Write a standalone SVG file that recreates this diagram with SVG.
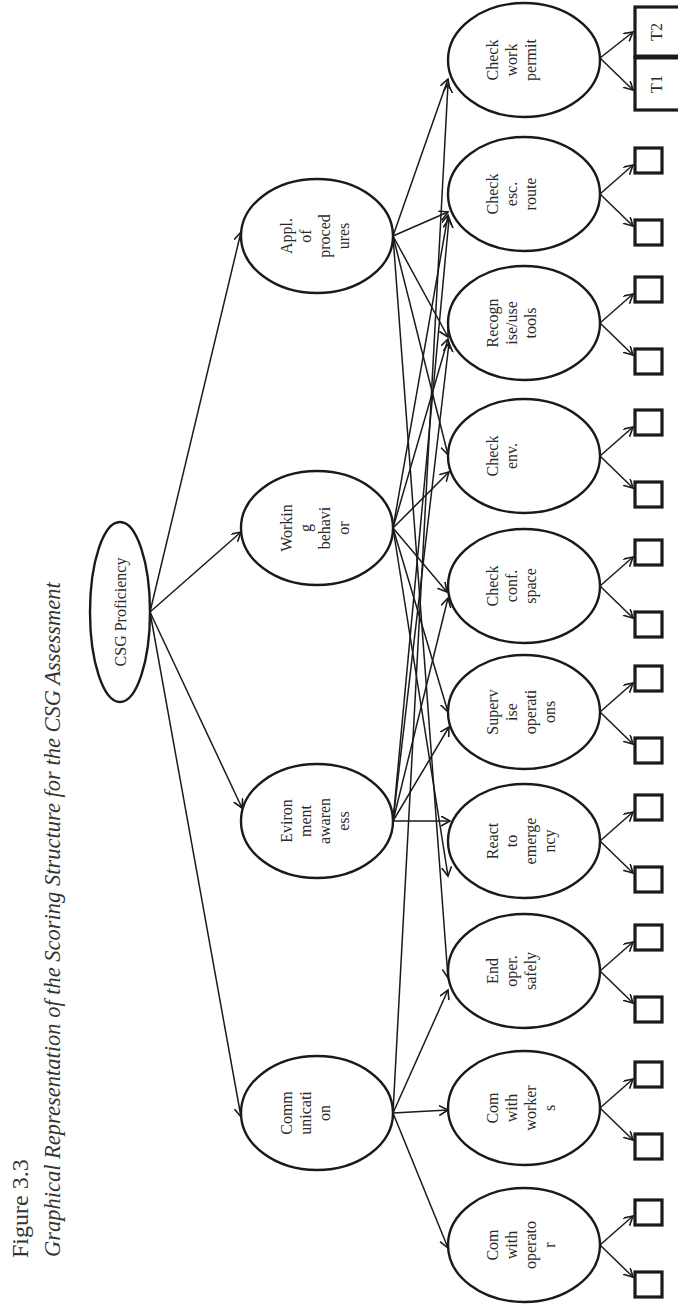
<svg xmlns="http://www.w3.org/2000/svg" width="678" height="1304" viewBox="0 0 678 1304">
<defs>
<marker id="ah" markerUnits="userSpaceOnUse" markerWidth="12" markerHeight="12" refX="9" refY="5" orient="auto">
<path d="M0,0 L9,5 L0,10" fill="none" stroke="#1a1a1a" stroke-width="1.6"/>
</marker>
<style>
.n{fill:#fff;stroke:#1a1a1a;stroke-width:2.4}
.t{font-family:"Liberation Serif","Times New Roman",serif;font-size:16px;fill:#2a2a2a;text-anchor:middle}
.c line{stroke:#1a1a1a;stroke-width:1.5;marker-end:url(#ah)}
.sq{fill:#fff;stroke:#1a1a1a;stroke-width:3.2}
.cap{font-family:"Liberation Serif","Times New Roman",serif;fill:#333}
</style>
</defs>
<rect width="678" height="1304" fill="#fff"/>
<g id="caption">
<text class="cap" font-size="24" transform="translate(28,1258) rotate(-90)">Figure 3.3</text>
<text class="cap" font-size="22.5" font-style="italic" transform="translate(60,1257) rotate(-90)">Graphical Representation of the Scoring Structure for the CSG Assessment</text>
</g>
<g id="connectors" class="c">
<line x1="150" y1="612" x2="241" y2="232"/>
<line x1="150" y1="612" x2="241" y2="532"/>
<line x1="150" y1="612" x2="242" y2="808"/>
<line x1="150" y1="612" x2="241" y2="1117"/>
<line x1="393" y1="236" x2="448" y2="79"/>
<line x1="393" y1="236" x2="448" y2="212"/>
<line x1="393" y1="236" x2="448" y2="337"/>
<line x1="393" y1="236" x2="448" y2="455"/>
<line x1="393" y1="236" x2="448" y2="978"/>
<line x1="393" y1="528" x2="448" y2="215"/>
<line x1="393" y1="528" x2="448" y2="339"/>
<line x1="393" y1="528" x2="449" y2="472"/>
<line x1="393" y1="528" x2="447" y2="592"/>
<line x1="393" y1="528" x2="448" y2="712"/>
<line x1="393" y1="528" x2="448" y2="876"/>
<line x1="393" y1="821" x2="449" y2="219"/>
<line x1="393" y1="821" x2="449" y2="343"/>
<line x1="393" y1="821" x2="448" y2="598"/>
<line x1="393" y1="821" x2="449" y2="727"/>
<line x1="393" y1="821" x2="450" y2="821"/>
<line x1="393" y1="1113" x2="448" y2="84"/>
<line x1="393" y1="1113" x2="448" y2="990"/>
<line x1="393" y1="1113" x2="448" y2="1110"/>
<line x1="393" y1="1113" x2="448" y2="1248"/>
<line x1="600" y1="58" x2="633" y2="32"/>
<line x1="600" y1="58" x2="633" y2="90"/>
<line x1="600" y1="194" x2="633" y2="165"/>
<line x1="600" y1="194" x2="633" y2="226"/>
<line x1="600" y1="323" x2="633" y2="294"/>
<line x1="600" y1="323" x2="633" y2="355"/>
<line x1="600" y1="456" x2="633" y2="427"/>
<line x1="600" y1="456" x2="633" y2="488"/>
<line x1="600" y1="586" x2="633" y2="557"/>
<line x1="600" y1="586" x2="633" y2="618"/>
<line x1="600" y1="712" x2="633" y2="683"/>
<line x1="600" y1="712" x2="633" y2="744"/>
<line x1="600" y1="841" x2="633" y2="812"/>
<line x1="600" y1="841" x2="633" y2="873"/>
<line x1="600" y1="971" x2="633" y2="942"/>
<line x1="600" y1="971" x2="633" y2="1003"/>
<line x1="600" y1="1108" x2="633" y2="1079"/>
<line x1="600" y1="1108" x2="633" y2="1140"/>
<line x1="600" y1="1245" x2="633" y2="1216"/>
<line x1="600" y1="1245" x2="633" y2="1277"/>
</g>
<g id="csg"><ellipse class="n" cx="120" cy="612" rx="30" ry="90"/><text class="t" transform="translate(126,612) rotate(-90)">CSG Proficiency</text></g>
<g id="appl"><ellipse class="n" cx="317" cy="236" rx="76" ry="57"/><text class="t" transform="translate(292,236) rotate(-90)"><tspan x="0" y="0">Appl.</tspan><tspan x="0" y="19">of</tspan><tspan x="0" y="38">proced</tspan><tspan x="0" y="57">ures</tspan></text></g>
<g id="workin"><ellipse class="n" cx="317" cy="528" rx="76" ry="57"/><text class="t" transform="translate(292,528) rotate(-90)"><tspan x="0" y="0">Workin</tspan><tspan x="0" y="19">g</tspan><tspan x="0" y="38">behavi</tspan><tspan x="0" y="57">or</tspan></text></g>
<g id="eviron"><ellipse class="n" cx="317" cy="821" rx="76" ry="57"/><text class="t" transform="translate(292,821) rotate(-90)"><tspan x="0" y="0">Eviron</tspan><tspan x="0" y="19">ment</tspan><tspan x="0" y="38">awaren</tspan><tspan x="0" y="57">ess</tspan></text></g>
<g id="comm"><ellipse class="n" cx="317" cy="1113" rx="76" ry="57"/><text class="t" transform="translate(292,1113) rotate(-90)"><tspan x="0" y="0">Comm</tspan><tspan x="0" y="19">unicati</tspan><tspan x="0" y="38">on</tspan></text></g>
<g id="checkwork"><ellipse class="n" cx="524" cy="60" rx="76" ry="57"/><text class="t" transform="translate(498,60) rotate(-90)"><tspan x="0" y="0">Check</tspan><tspan x="0" y="19">work</tspan><tspan x="0" y="38">permit</tspan></text></g>
<g id="checkesc"><ellipse class="n" cx="524" cy="194" rx="76" ry="57"/><text class="t" transform="translate(498,194) rotate(-90)"><tspan x="0" y="0">Check</tspan><tspan x="0" y="19">esc.</tspan><tspan x="0" y="38">route</tspan></text></g>
<g id="recogn"><ellipse class="n" cx="524" cy="323" rx="76" ry="57"/><text class="t" transform="translate(498,323) rotate(-90)"><tspan x="0" y="0">Recogn</tspan><tspan x="0" y="19">ise/use</tspan><tspan x="0" y="38">tools</tspan></text></g>
<g id="checkenv"><ellipse class="n" cx="524" cy="456" rx="76" ry="57"/><text class="t" transform="translate(498,456) rotate(-90)"><tspan x="0" y="0">Check</tspan><tspan x="0" y="19">env.</tspan></text></g>
<g id="checkconf"><ellipse class="n" cx="524" cy="586" rx="76" ry="57"/><text class="t" transform="translate(498,586) rotate(-90)"><tspan x="0" y="0">Check</tspan><tspan x="0" y="19">conf.</tspan><tspan x="0" y="38">space</tspan></text></g>
<g id="superv"><ellipse class="n" cx="524" cy="712" rx="76" ry="57"/><text class="t" transform="translate(498,712) rotate(-90)"><tspan x="0" y="0">Superv</tspan><tspan x="0" y="19">ise</tspan><tspan x="0" y="38">operati</tspan><tspan x="0" y="57">ons</tspan></text></g>
<g id="react"><ellipse class="n" cx="524" cy="841" rx="76" ry="57"/><text class="t" transform="translate(498,841) rotate(-90)"><tspan x="0" y="0">React</tspan><tspan x="0" y="19">to</tspan><tspan x="0" y="38">emerge</tspan><tspan x="0" y="57">ncy</tspan></text></g>
<g id="endoper"><ellipse class="n" cx="524" cy="971" rx="76" ry="57"/><text class="t" transform="translate(498,971) rotate(-90)"><tspan x="0" y="0">End</tspan><tspan x="0" y="19">oper.</tspan><tspan x="0" y="38">safely</tspan></text></g>
<g id="comworkers"><ellipse class="n" cx="524" cy="1108" rx="76" ry="57"/><text class="t" transform="translate(498,1108) rotate(-90)"><tspan x="0" y="0">Com</tspan><tspan x="0" y="19">with</tspan><tspan x="0" y="38">worker</tspan><tspan x="0" y="57">s</tspan></text></g>
<g id="comoperator"><ellipse class="n" cx="524" cy="1245" rx="76" ry="57"/><text class="t" transform="translate(498,1245) rotate(-90)"><tspan x="0" y="0">Com</tspan><tspan x="0" y="19">with</tspan><tspan x="0" y="38">operato</tspan><tspan x="0" y="57">r</tspan></text></g>
<g id="t2"><rect class="sq" x="635" y="7" width="50" height="50"/><text class="t" transform="translate(662,32) rotate(-90)">T2</text></g>
<g id="t1"><rect class="sq" x="635" y="57" width="50" height="53"/><line x1="635" y1="57" x2="678" y2="57" stroke="#1a1a1a" stroke-width="5"/><text class="t" transform="translate(662,84) rotate(-90)">T1</text></g>
<g id="squares">
<rect class="sq" x="635" y="148" width="27" height="25"/><rect class="sq" x="635" y="220" width="27" height="25"/>
<rect class="sq" x="635" y="277" width="27" height="25"/><rect class="sq" x="635" y="349" width="27" height="25"/>
<rect class="sq" x="635" y="410" width="27" height="25"/><rect class="sq" x="635" y="482" width="27" height="25"/>
<rect class="sq" x="635" y="540" width="27" height="25"/><rect class="sq" x="635" y="612" width="27" height="25"/>
<rect class="sq" x="635" y="666" width="27" height="25"/><rect class="sq" x="635" y="738" width="27" height="25"/>
<rect class="sq" x="635" y="795" width="27" height="25"/><rect class="sq" x="635" y="867" width="27" height="25"/>
<rect class="sq" x="635" y="925" width="27" height="25"/><rect class="sq" x="635" y="997" width="27" height="25"/>
<rect class="sq" x="635" y="1062" width="27" height="25"/><rect class="sq" x="635" y="1134" width="27" height="25"/>
<rect class="sq" x="635" y="1200" width="27" height="25"/><rect class="sq" x="635" y="1272" width="27" height="25"/>
</g>
</svg>
